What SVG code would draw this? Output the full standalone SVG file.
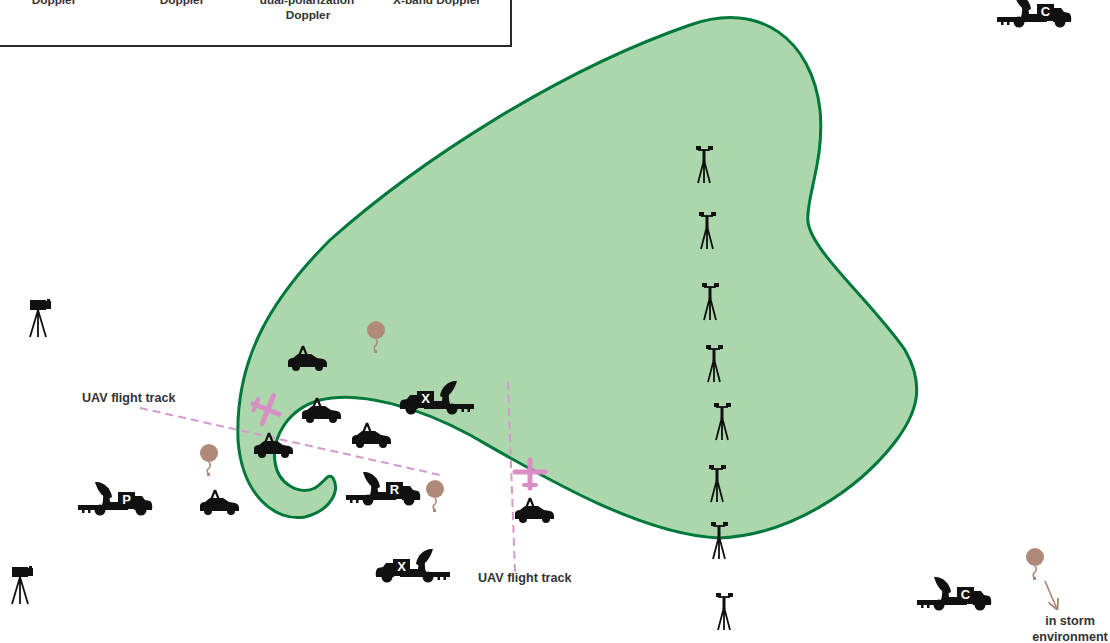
<svg xmlns="http://www.w3.org/2000/svg" xmlns:xlink="http://www.w3.org/1999/xlink" width="1110" height="643" viewBox="0 0 1110 643">
  <style>
    .lbl { font-family: "Liberation Sans", Arial, sans-serif; font-weight: bold; font-size: 12.6px; fill: #333333; }
    .leg-txt { font-family: "Liberation Sans", Arial, sans-serif; font-weight: bold; font-size: 11.8px; fill: #333333; text-anchor: middle; }
    .tag { font-family: "Liberation Sans", Arial, sans-serif; font-weight: bold; font-size: 13px; fill: #ffffff; text-anchor: middle; }
    .ink { fill: #111111; }
    .leg { stroke: #111111; stroke-width: 1.8; fill: none; }
    .uav { stroke: #d98fc4; stroke-linecap: round; fill: none; }
    .track { stroke: #d49ad0; stroke-width: 2; stroke-dasharray: 8 5; fill: none; }
    .balloon { fill: #b08a78; }
    .string { stroke: #b08a78; stroke-width: 1.6; fill: none; }
  </style>
  <defs>
    <!-- radar truck, cab facing right -->
    <g id="truck" class="ink">
      <rect x="0" y="24" width="50" height="5"/>
      <rect x="4" y="28" width="2.5" height="4"/>
      <rect x="10" y="28" width="2.5" height="4"/>
      <path d="M17,1 C25,0 33,7 34,16 L30,18 C23,15 19,8 17,1 Z"/>
      <path d="M25,13 L31,13 L33,28 L22,28 Q26,22 25,13 Z"/>
      <rect x="30" y="21" width="12" height="7"/>
      <rect x="40" y="11" width="17" height="17"/>
      <path d="M56,15 L64,15 L67,19 L72,20 Q75,22 74,29 L56,29 Z"/>
      <circle cx="22" cy="29" r="5.5"/>
      <circle cx="63" cy="29" r="5.5"/>
    </g>
    <!-- sedan with roof antenna -->
    <g id="car">
      <path d="M15,1 L11,11 M15,1 L19,11" stroke="#111111" stroke-width="2.2" fill="none"/>
      <path class="ink" d="M0,22 L0,16 Q1,13 5,13 L10,9 L23,9 L29,13 L35,14 Q39,15 39,19 L39,22 Z"/>
      <circle class="ink" cx="8" cy="22" r="4"/>
      <circle class="ink" cx="31" cy="22" r="4"/>
    </g>
    <!-- video camera on tripod -->
    <g id="camera">
      <rect class="ink" x="0" y="0" width="16" height="10"/>
      <rect class="ink" x="15" y="1" width="6" height="8"/>
      <rect class="ink" x="17" y="-1" width="3" height="2"/>
      <path class="leg" d="M8,10 L0,37 M8,10 L8,37 M8,10 L16,37"/>
    </g>
    <!-- surface weather station -->
    <g id="station">
      <rect class="ink" x="-8" y="0" width="5" height="4"/>
      <rect class="ink" x="4" y="0" width="5" height="4"/>
      <path class="leg" d="M-6,4 L6,4"/>
      <rect class="ink" x="-1.5" y="4" width="3" height="12"/>
      <path class="leg" d="M0,14 L-6,37 M0,14 L0,37 M0,14 L6,37"/>
    </g>
    <!-- small unmanned aircraft, nose up -->
    <g id="plane" class="uav">
      <path d="M0,-14 L0,14" stroke-width="5"/>
      <path d="M-15,-2 L15,-2" stroke-width="5"/>
      <path d="M-6,11 L6,11" stroke-width="4"/>
    </g>
    <!-- sounding balloon -->
    <g id="balloon">
      <circle class="balloon" cx="0" cy="0" r="9"/>
      <path class="string" d="M0,9 Q3,13 -1,16 Q-3,19 0,21"/>
      <rect class="balloon" x="-2" y="20" width="3" height="3"/>
    </g>
    <marker id="arrowBrown" viewBox="0 0 10 10" refX="9" refY="5" markerWidth="7" markerHeight="7" orient="auto">
      <path d="M0,0 L10,5 L0,10" fill="none" stroke="#a88474" stroke-width="1.6"/>
    </marker>
  </defs>

  <rect width="1110" height="643" fill="#ffffff"/>

  <!-- legend box (upper part runs off the top edge) -->
  <g id="legend">
    <path d="M0,46 L511,46 L511,-5" fill="none" stroke="#2a2a2a" stroke-width="2"/>
    <text class="leg-txt" x="54" y="4">Doppler</text>
    <text class="leg-txt" x="182" y="4">Doppler</text>
    <text class="leg-txt" x="307" y="4">dual-polarization</text>
    <text class="leg-txt" x="308" y="19">Doppler</text>
    <text class="leg-txt" x="437" y="4">X-band Doppler</text>
  </g>

  <!-- storm outline with hook echo -->
  <g id="storm">
    <path d="M238,440 C235,360 270,300 330,240 C420,160 560,70 690,25 C760,0 812,40 820,110 C825,160 805,200 808,222 C812,252 870,300 905,350 C925,385 918,412 895,442 C858,490 790,535 720,538 C640,535 540,475 470,435 C420,408 360,390 320,400 C285,410 272,440 275,462 C278,485 300,495 315,488 C325,482 328,472 333,478 C340,490 332,510 305,517 C275,522 242,495 238,440 Z" fill="#acd6ac" stroke="#00783c" stroke-width="3"/>
  </g>

  <!-- connectors: UAV tracks and balloon drift -->
  <g id="connectors">
    <path class="track" d="M140,408 L440,475"/>
    <path class="track" d="M508,382 L515,572"/>
    <path d="M1045,581 L1057,609" stroke="#a88474" stroke-width="1.6" fill="none" marker-end="url(#arrowBrown)"/>
  </g>

  <!-- weather stations -->
  <g id="stations">
    <use href="#station" x="704" y="146"/>
    <use href="#station" x="707" y="212"/>
    <use href="#station" x="710" y="283"/>
    <use href="#station" x="714" y="345"/>
    <use href="#station" x="722" y="403"/>
    <use href="#station" x="717" y="465"/>
    <use href="#station" x="719" y="522"/>
    <use href="#station" x="724" y="593"/>
  </g>

  <!-- cameras -->
  <g id="camera-1"><use href="#camera" x="30" y="300"/></g>
  <g id="camera-2"><use href="#camera" x="12" y="567"/></g>

  <!-- cars -->
  <g id="cars">
    <use href="#car" x="288" y="345"/>
    <use href="#car" x="302" y="397"/>
    <use href="#car" x="352" y="422"/>
    <use href="#car" x="254" y="432"/>
    <use href="#car" x="200" y="489"/>
    <use href="#car" x="515" y="497"/>
  </g>

  <!-- radar trucks -->
  <g id="truck-C-top">
    <use href="#truck" transform="translate(997,-7)"/>
    <text class="tag" x="1045.5" y="16">C</text>
  </g>
  <g id="truck-P">
    <use href="#truck" transform="translate(78,481)"/>
    <text class="tag" x="126.5" y="504">P</text>
  </g>
  <g id="truck-R">
    <use href="#truck" transform="translate(346,471)"/>
    <text class="tag" x="394.5" y="494">R</text>
  </g>
  <g id="truck-X-1">
    <use href="#truck" transform="translate(474,380) scale(-1,1)"/>
    <text class="tag" x="425.5" y="403">X</text>
  </g>
  <g id="truck-X-2">
    <use href="#truck" transform="translate(450,548) scale(-1,1)"/>
    <text class="tag" x="401.5" y="571">X</text>
  </g>
  <g id="truck-C-bottom">
    <use href="#truck" transform="translate(917,576)"/>
    <text class="tag" x="965.5" y="599">C</text>
  </g>

  <!-- balloons -->
  <g id="balloons">
    <use href="#balloon" x="376" y="330"/>
    <use href="#balloon" x="209" y="453"/>
    <use href="#balloon" x="435" y="489"/>
    <use href="#balloon" x="1035" y="557"/>
  </g>

  <!-- UAVs -->
  <g id="uav-1"><use href="#plane" transform="translate(266,409) rotate(112)"/></g>
  <g id="uav-2"><use href="#plane" transform="translate(530,474)"/></g>

  <!-- labels -->
  <g id="labels">
    <text class="lbl" x="82" y="402">UAV flight track</text>
    <text class="lbl" x="478" y="582">UAV flight track</text>
    <text class="lbl" x="1070" y="625" text-anchor="middle">in storm</text>
    <text class="lbl" x="1070" y="641" text-anchor="middle">environment</text>
  </g>
</svg>
